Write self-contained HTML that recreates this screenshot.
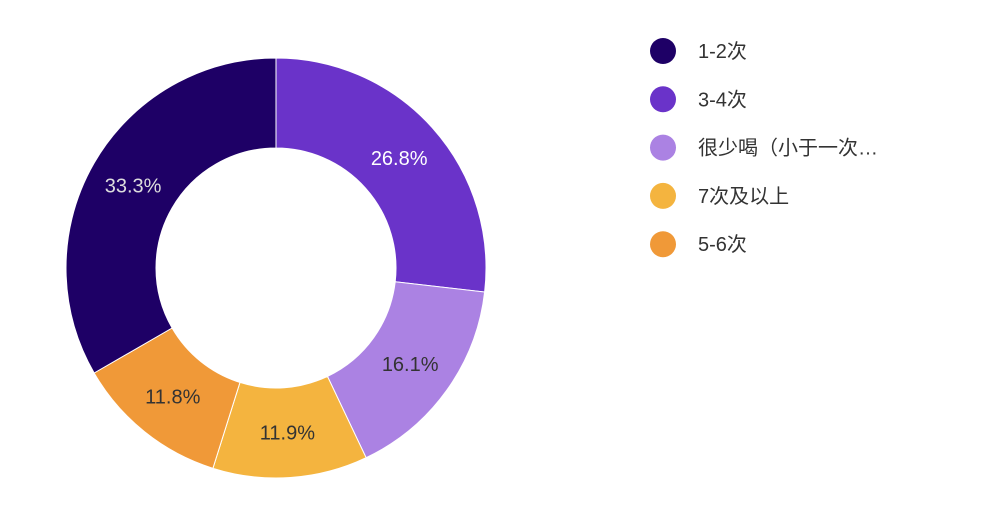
<!DOCTYPE html>
<html><head><meta charset="utf-8"><style>
body{margin:0;background:#fff;width:986px;height:500px;overflow:hidden;font-family:"Liberation Sans","Noto Sans CJK SC",sans-serif}
</style></head><body>
<svg width="986" height="500">
<g id="slices"></g><g id="labels"></g><g id="legend"></g>
</svg>
<script>
const categories=["3-4次","很少喝（小于一次…","7次及以上","5-6次","1-2次"];
const values=[26.8,16.1,11.9,11.8,33.3];
const colors=["#6a33c9","#ab82e3","#f4b43f","#f09938","#1e0066"];
const labelColors=["#fff","#333","#333","#333","#ddd"];
const legendOrder=[4,0,1,2,3];
const NS="http://www.w3.org/2000/svg";
const cx=276,cy=268,R=210,r=120;
const total=values.reduce((a,b)=>a+b,0);
const sl=document.getElementById('slices'),lb=document.getElementById('labels'),lg=document.getElementById('legend');
function pt(rad,a){return [cx+rad*Math.sin(a),cy-rad*Math.cos(a)];}
let a0=0;
values.forEach((v,i)=>{
 const a1=a0+v/total*2*Math.PI;
 const [x1,y1]=pt(R,a0),[x2,y2]=pt(R,a1),[x3,y3]=pt(r,a1),[x4,y4]=pt(r,a0);
 const big=a1-a0>Math.PI?1:0;
 const p=document.createElementNS(NS,'path');
 p.setAttribute('d',`M${x1},${y1}A${R},${R} 0 ${big} 1 ${x2},${y2}L${x3},${y3}A${r},${r} 0 ${big} 0 ${x4},${y4}Z`);
 p.setAttribute('fill',colors[i]);p.setAttribute('stroke','#fff');p.setAttribute('stroke-width','1');
 
 
 sl.appendChild(p);
 const [lx,ly]=pt(165,(a0+a1)/2);
 const t=document.createElementNS(NS,'text');
 t.setAttribute('x',lx);t.setAttribute('y',ly+7);t.setAttribute('text-anchor','middle');
 t.setAttribute('font-size','20');t.setAttribute('fill',labelColors[i]);
 t.textContent=v.toFixed(1)+'%';
 
 
 lb.appendChild(t);
 a0=a1;
});
legendOrder.forEach((idx,k)=>{
 const y=51+k*48.3;
 const g=document.createElementNS(NS,'g');
 
 
 const c=document.createElementNS(NS,'circle');
 c.setAttribute('cx',663);c.setAttribute('cy',y);c.setAttribute('r',13);c.setAttribute('fill',colors[idx]);
 g.appendChild(c);
 const t=document.createElementNS(NS,'text');
 t.setAttribute('x',698);t.setAttribute('y',y+7);t.setAttribute('font-size','20');t.setAttribute('fill','#333');
 t.textContent=categories[idx];
 g.appendChild(t);
 lg.appendChild(g);
});
</script>
</body></html>
